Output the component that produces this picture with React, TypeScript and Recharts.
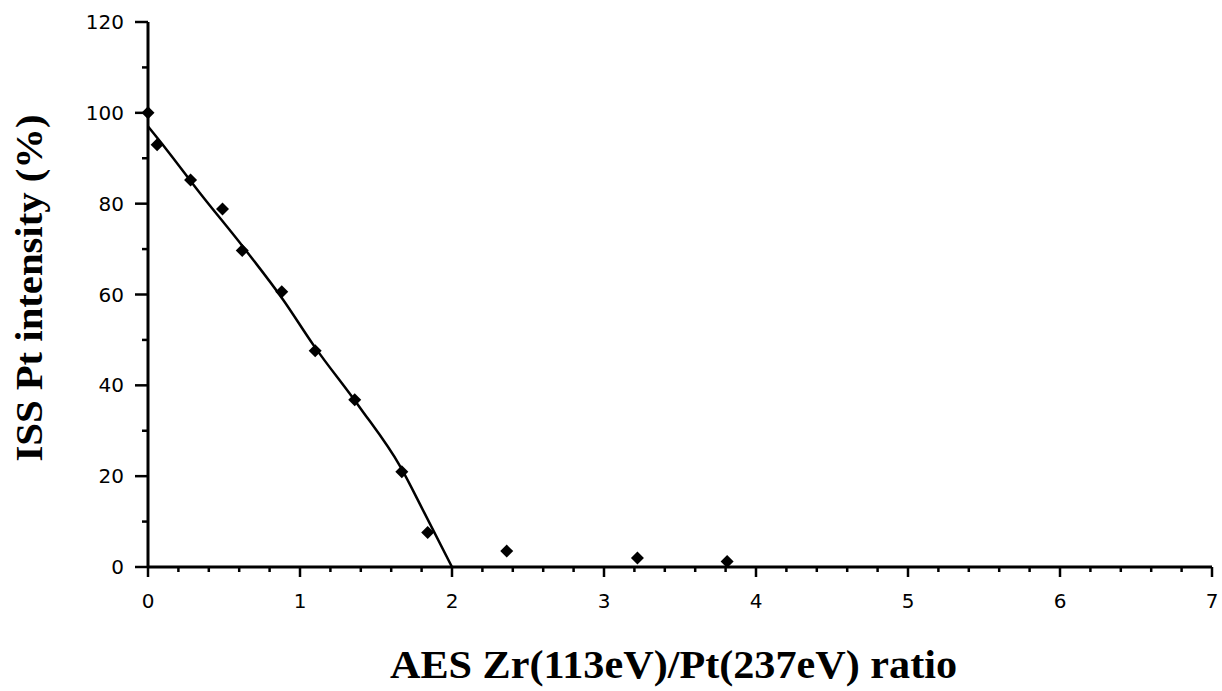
import React from "react"
import {
  ComposedChart,
  Line,
  Scatter,
  XAxis,
  YAxis,
  Label,
} from "recharts"

// measured points (AES ratio vs ISS Pt intensity)
const pointX = [0, 0.06, 0.28, 0.49, 0.62, 0.88, 1.1, 1.36, 1.67, 1.84, 2.36, 3.22, 3.81]
const pointY = [100, 93, 85.2, 78.8, 69.7, 60.6, 47.6, 36.8, 21, 7.6, 3.5, 2, 1.2]

// fitted curve
const fitX = [0, 0.12, 0.34, 0.63, 0.89, 1.09, 1.39, 1.66, 1.82, 2.0]
const fitY = [97, 92, 82.4, 70.3, 58.8, 48.8, 35.3, 22.1, 11.8, 0]

const xTicks = [
  0, 0.2, 0.4, 0.6, 0.8, 1, 1.2, 1.4, 1.6, 1.8, 2, 2.2, 2.4, 2.6, 2.8, 3, 3.2, 3.4, 3.6, 3.8,
  4, 4.2, 4.4, 4.6, 4.8, 5, 5.2, 5.4, 5.6, 5.8, 6, 6.2, 6.4, 6.6, 6.8, 7,
]
const yTicks = [0, 10, 20, 30, 40, 50, 60, 70, 80, 90, 100, 110, 120]

const points = pointX.map((x, i) => ({ x, y: pointY[i] }))
const fit = fitX.map((x, i) => ({ x, y: fitY[i] }))

const tickFont = { fontFamily: "DejaVu Sans", fontSize: 20, fill: "#000" }

function XTick({ x, y, payload }: any) {
  const major = Number.isInteger(payload.value)
  return (
    <g>
      <line x1={x} x2={x} y1={y} y2={y + (major ? 10 : 5)} stroke="#000" strokeWidth={2.5} />
      {major && (
        <text x={x} y={y + 41} textAnchor="middle" {...tickFont}>
          {payload.value}
        </text>
      )}
    </g>
  )
}

function YTick({ x, y, payload }: any) {
  const major = payload.value % 20 === 0
  return (
    <g>
      <line x1={x - (major ? 13 : 6)} x2={x} y1={y} y2={y} stroke="#000" strokeWidth={2.5} />
      {major && (
        <text x={x - 24} y={y + 7} textAnchor="end" {...tickFont}>
          {payload.value}
        </text>
      )}
    </g>
  )
}

function Diamond({ cx, cy }: any) {
  const r = 6.5
  return (
    <polygon
      points={`${cx},${cy - r} ${cx + r},${cy} ${cx},${cy + r} ${cx - r},${cy}`}
      fill="#000"
    />
  )
}

const XTitle = () => (
  <text
    x={390}
    y={678}
    textLength={567}
    lengthAdjust="spacingAndGlyphs"
    fontFamily="Liberation Serif"
    fontWeight="bold"
    fontSize={40}
    fill="#000"
  >
    AES Zr(113eV)/Pt(237eV) ratio
  </text>
)

const YTitle = () => (
  <text
    x={42}
    y={288}
    transform="rotate(-90, 42, 288)"
    textAnchor="middle"
    textLength={347}
    lengthAdjust="spacingAndGlyphs"
    fontFamily="Liberation Serif"
    fontWeight="bold"
    fontSize={38}
    fill="#000"
  >
    ISS Pt intensity (%)
  </text>
)

export default function App() {
  return (
    <div style={{ position: "absolute", left: 0, top: 0, background: "#fff" }}>
      <ComposedChart width={1222} height={691} margin={{ top: 22, right: 10, left: 0, bottom: 0 }}>
        <XAxis
          type="number"
          dataKey="x"
          domain={[0, 7]}
          ticks={xTicks}
          interval={0}
          height={124}
          tickSize={0}
          tickMargin={0}
          tickLine={false}
          tick={<XTick />}
          axisLine={{ stroke: "#000", strokeWidth: 3 }}
        >
          <Label content={<XTitle />} />
        </XAxis>
        <YAxis
          type="number"
          dataKey="y"
          domain={[0, 120]}
          ticks={yTicks}
          interval={0}
          width={148}
          tickSize={0}
          tickMargin={0}
          tickLine={false}
          tick={<YTick />}
          axisLine={{ stroke: "#000", strokeWidth: 3 }}
        >
          <Label content={<YTitle />} />
        </YAxis>
        <Line
          data={fit}
          dataKey="y"
          type="monotone"
          stroke="#000"
          strokeWidth={2.5}
          dot={false}
          isAnimationActive={false}
        />
        <Scatter data={points} dataKey="y" shape={<Diamond />} isAnimationActive={false} />
      </ComposedChart>
    </div>
  )
}
